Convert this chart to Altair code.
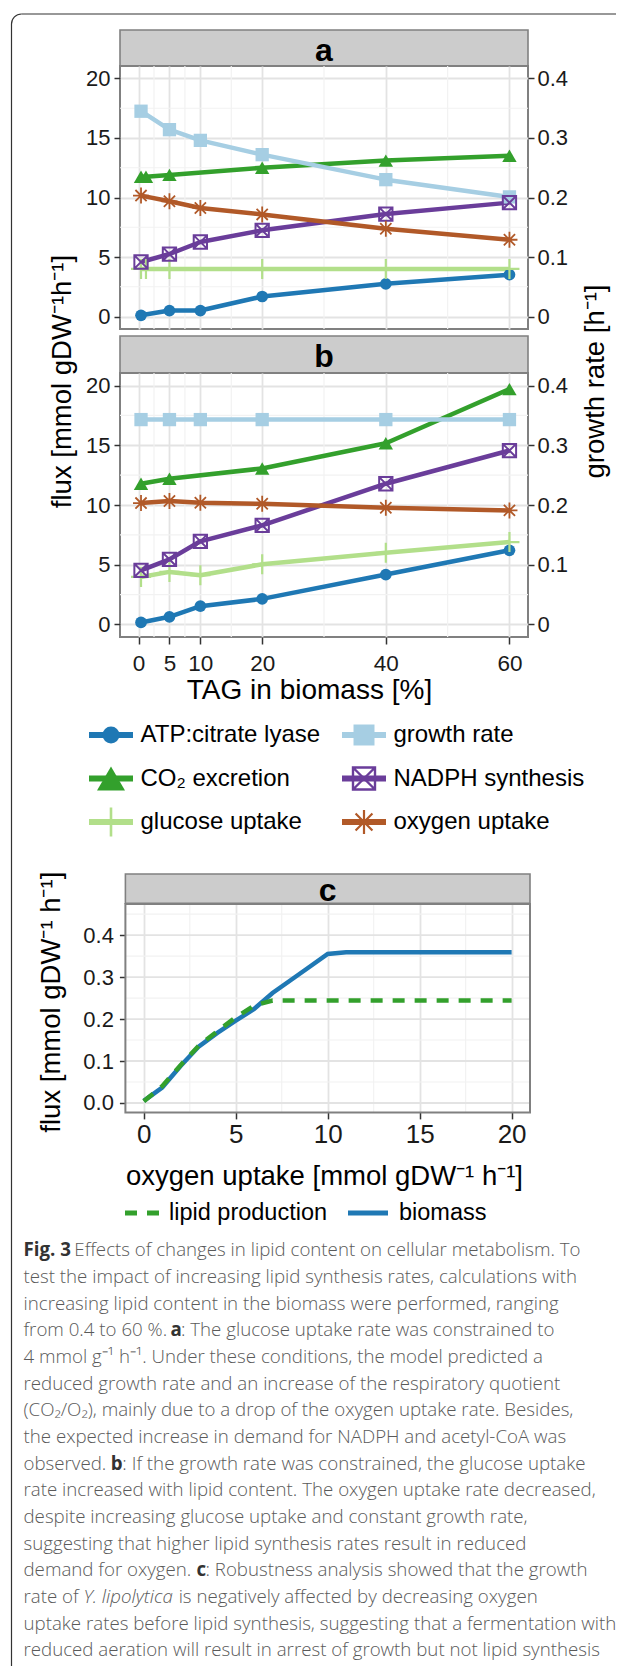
import altair as alt
import pandas as pd

# ------------------------------------------------------------------ data
SERIES = ["ATP:citrate lyase", "CO\u2082 excretion", "glucose uptake",
          "growth rate", "NADPH synthesis", "oxygen uptake"]
COLORS = ["#1F78B4", "#33A02C", "#B2DF8A", "#A6CEE3", "#6A3D9A", "#B15928"]

# TAG in biomass [%]
TAG = [0.4, 5, 10, 20, 40, 60]
TAG_A_CO2 = [0.4, 1.2, 5, 20, 40, 60]
TAG_A_GLC = [0.4, 1.2, 5, 20, 40, 60]
TAG_B_CO2 = [0.4, 5, 20, 40, 60]

# panel a (glucose uptake constrained)
A_ATP = [0.10, 0.50, 0.50, 1.68, 2.75, 3.51]
A_CO2 = [11.75, 11.75, 11.90, 12.50, 13.10, 13.50]
A_GLC = [4.0, 4.0, 4.0, 4.0, 4.0, 4.0]
A_GROWTH = [0.345, 0.314, 0.296, 0.272, 0.230, 0.201]
A_NADPH = [4.58, 5.25, 6.26, 7.24, 8.61, 9.57]
A_O2 = [10.16, 9.68, 9.12, 8.58, 7.38, 6.45]

# panel b (growth rate constrained)
B_ATP = [0.17, 0.64, 1.53, 2.14, 4.18, 6.21]
B_CO2 = [11.78, 12.20, 13.06, 15.17, 19.70]
B_GLC = [3.98, 4.40, 4.12, 5.04, 6.00, 6.90]
B_GROWTH = [0.343, 0.343, 0.343, 0.343, 0.343, 0.343]
B_NADPH = [4.53, 5.45, 6.96, 8.30, 11.78, 14.56]
B_O2 = [10.16, 10.33, 10.19, 10.10, 9.77, 9.55]

X_TICKS = [0, 5, 10, 20, 40, 60]
X_MINOR = [2.5, 7.5, 15, 30, 50]
Y_TICKS = [0, 5, 10, 15, 20]
Y_MINOR = [2.5, 7.5, 12.5, 17.5]
RATE_TICKS = [0, 0.1, 0.2, 0.3, 0.4]
SEC_AXIS = 50  # flux units per unit of growth rate (secondary axis)

# panel c (robustness analysis)
C_SERIES = ["lipid production", "biomass"]
C_COLORS = ["#33A02C", "#1F78B4"]
C_O2 = [0, 1, 2, 3, 4, 5, 6, 7, 8, 9, 10, 11, 12, 13, 14, 15, 16, 17, 18, 19, 20]
C_BIOMASS = [0.005, 0.037, 0.088, 0.135, 0.167, 0.196, 0.224, 0.262, 0.293, 0.324,
             0.355, 0.359, 0.359, 0.359, 0.359, 0.359, 0.359, 0.359, 0.359, 0.359, 0.359]
C_LIPID = [0.004, 0.040, 0.090, 0.137, 0.171, 0.204, 0.232, 0.244, 0.244, 0.244,
           0.244, 0.244, 0.244, 0.244, 0.244, 0.244, 0.244, 0.244, 0.244, 0.244, 0.244]
C_X_TICKS = [0, 5, 10, 15, 20]
C_X_MINOR = [2.5, 7.5, 12.5, 17.5]
C_Y_TICKS = [0, 0.1, 0.2, 0.3, 0.4]
C_Y_MINOR = [0.05, 0.15, 0.25, 0.35, 0.45]

CAPTION = [
    [("Fig. 3 ", "bold"), ("Effects of changes in lipid content on cellular metabolism. To", "normal")],
    [("test the impact of increasing lipid synthesis rates, calculations with", "normal")],
    [("increasing lipid content in the biomass were performed, ranging", "normal")],
    [("from 0.4 to 60 %. ", "normal"), ("a", "bold"), (": The glucose uptake rate was constrained to", "normal")],
    [("4 mmol g\u207b\u00b9 h\u207b\u00b9. Under these conditions, the model predicted a", "normal")],
    [("reduced growth rate and an increase of the respiratory quotient", "normal")],
    [("(CO\u2082/O\u2082), mainly due to a drop of the oxygen uptake rate. Besides,", "normal")],
    [("the expected increase in demand for NADPH and acetyl-CoA was", "normal")],
    [("observed. ", "normal"), ("b", "bold"), (": If the growth rate was constrained, the glucose uptake", "normal")],
    [("rate increased with lipid content. The oxygen uptake rate decreased,", "normal")],
    [("despite increasing glucose uptake and constant growth rate,", "normal")],
    [("suggesting that higher lipid synthesis rates result in reduced", "normal")],
    [("demand for oxygen. ", "normal"), ("c", "bold"), (": Robustness analysis showed that the growth", "normal")],
    [("rate of ", "normal"), ("Y. lipolytica", "italic"), (" is negatively affected by decreasing oxygen", "normal")],
    [("uptake rates before lipid synthesis, suggesting that a fermentation with", "normal")],
    [("reduced aeration will result in arrest of growth but not lipid synthesis", "normal")],
]

# ------------------------------------------------------------------ style / layout
FONT = "Liberation Sans"
CAP_FONT = "Open Sans"
CAP_SIZE = 18.7
PLUS = "M-1,0H1M0,-1V1"
STAR = "M-1,0H1M0,-1V1M-0.7,-0.7L0.7,0.7M-0.7,0.7L0.7,-0.7"
SQUARE_X = "M-1,-1H1V1H-1ZM-1,-1L1,1M-1,1L1,-1"
MARKER = [("circle", True, 0), ("triangle-up", True, 0), (PLUS, False, 2.2),
          ("square", True, 0), (SQUARE_X, False, 2.0), (STAR, False, 1.8)]
PLOT_SIZE = [137, 207, 400, 177, 177, 256]
LEGEND_SIZE = [289, 784, 841, 441, 484, 580]
LEGEND_STROKE = [0, 0, 2.6, 0, 2.4, 2.2]

PANEL_W = 408
X_DOMAIN = [-3, 63]
Y_DOMAIN = [-1.05, 21.05]
MAJOR = "#E3E3E3"
MINOR = "#F2F2F2"
BORDER = "#808080"
STRIP_FILL = "#CCCCCC"
INK = "#1A1A1A"

# svg-space position of the layout origin (left edge of panels a/b, top of strip a)
ORIGIN_X, ORIGIN_Y = 112, 22
SVG_W, SVG_H = 608, 1658          # svg width fits the page body exactly (no shrinking)

ONE = pd.DataFrame({"k": [0]})

# approximate Open Sans advance widths (em) used to lay out mixed-style caption lines
_W = {" ": .26, "a": .556, "b": .613, "c": .476, "d": .613, "e": .561, "f": .339, "g": .548,
      "h": .614, "i": .253, "j": .253, "k": .525, "l": .253, "m": .930, "n": .614, "o": .604,
      "p": .613, "q": .613, "r": .408, "s": .477, "t": .353, "u": .614, "v": .501, "w": .778,
      "x": .524, "y": .502, "z": .477, ".": .266, ",": .245, ":": .266, "%": .828, "(": .296,
      ")": .296, "/": .367, "-": .322, "F": .537, "Y": .555}


def text_width(s, style):
    w = sum(_W.get(ch, .572 if ch.isdigit() else .62) for ch in s) * CAP_SIZE * 0.96
    return w * (1.05 if style == "bold" else 0.97 if style == "italic" else 1.0)


def long_flux(entries):
    rows = []
    for name, xs, ys in entries:
        for x, y in zip(xs, ys):
            rows.append({"series": name, "tag": x, "flux": y})
    return pd.DataFrame(rows)


def growth_table(xs, rates):
    return pd.DataFrame({"series": SERIES[3], "tag": xs, "rate": rates,
                         "flux": [r * SEC_AXIS for r in rates]})


def flux_panel(flux_df, growth_df, top, height):
    xs = alt.Scale(domain=X_DOMAIN, nice=False, zero=False)
    ys = alt.Scale(domain=Y_DOMAIN, nice=False, zero=False)
    rs = alt.Scale(domain=[Y_DOMAIN[0] / SEC_AXIS, Y_DOMAIN[1] / SEC_AXIS], nice=False, zero=False)
    y_common = dict(values=Y_TICKS, format="d", labelFontSize=22, tickSize=6, labelPadding=4,
                    grid=True, labelFlush=False, labelOverlap=False)
    r_common = dict(values=RATE_TICKS, format="~f", labelFontSize=22, tickSize=6, labelPadding=3,
                    grid=False, orient="right", labelFlush=False, labelOverlap=False)
    if top:
        x_axis = alt.Axis(values=X_TICKS, labels=False, ticks=False, title=None, grid=True)
        y_axis = alt.Axis(title="flux [mmol gDW\u207b\u00b9h\u207b\u00b9]", titleFontSize=27.5,
                          titleAngle=270, titleAlign="center", titleBaseline="middle",
                          titleX=-58, titleY=315, **y_common)
        r_axis = alt.Axis(title="growth rate [h\u207b\u00b9]", titleFontSize=27.5,
                          titleAngle=270, titleAlign="center", titleBaseline="middle",
                          titleX=67, titleY=315, **r_common)
    else:
        x_axis = alt.Axis(values=X_TICKS, format="d", labelFontSize=22.5, tickSize=7,
                          labelPadding=8.5, grid=True, labelFlush=False, labelOverlap=False,
                          title="TAG in biomass [%]", titleFontSize=28, titleAlign="center",
                          titleBaseline="middle", titleX=189, titleY=53.5)
        y_axis = alt.Axis(title=None, **y_common)
        r_axis = alt.Axis(title=None, **r_common)

    X = alt.X("tag:Q", scale=xs, axis=x_axis)
    Y = alt.Y("flux:Q", scale=ys, axis=y_axis)

    layers = [
        alt.Chart(pd.DataFrame({"tag": X_MINOR})).mark_rule(color=MINOR, strokeWidth=1.2).encode(x=X),
        alt.Chart(pd.DataFrame({"flux": Y_MINOR})).mark_rule(color=MINOR, strokeWidth=1.2).encode(y=Y),
    ]
    all_df = pd.concat([flux_df, growth_df[["series", "tag", "flux"]]], ignore_index=True)
    for name, col in zip(SERIES, COLORS):
        layers.append(alt.Chart(all_df).transform_filter(alt.datum.series == name)
                      .mark_line(color=col, strokeWidth=4.5, strokeJoin="round")
                      .encode(x=X, y=Y))
    for i, (name, col) in enumerate(zip(SERIES, COLORS)):
        shape, filled, sw = MARKER[i]
        layers.append(alt.Chart(all_df).transform_filter(alt.datum.series == name)
                      .mark_point(shape=shape, filled=filled, size=PLOT_SIZE[i], color=col,
                                  opacity=1, strokeWidth=sw)
                      .encode(x=X, y=Y))
    right = alt.Chart(growth_df).mark_point(opacity=0).encode(
        x=X, y=alt.Y("rate:Q", scale=rs, axis=r_axis))
    return (alt.layer(alt.layer(*layers), right)
            .resolve_scale(y="independent")
            .properties(width=PANEL_W, height=height,
                        view=alt.ViewBackground(stroke=BORDER, strokeWidth=2)))


def strip(label, width, height, top, x0, x1, extra=None):
    df = pd.DataFrame({"label": [label]})
    rect = alt.Chart(df).mark_rect(fill=STRIP_FILL, stroke=BORDER, strokeWidth=1.6).encode(
        x=alt.value(x0), x2=alt.value(x1), y=alt.value(top), y2=alt.value(height))
    text = alt.Chart(df).mark_text(fontSize=32, fontWeight="bold", color="#000000",
                                   baseline="alphabetic", align="center").encode(
        x=alt.value((x0 + x1) / 2), y=alt.value((top + height) / 2 + 12.8), text="label:N")
    parts = [rect, text] + (extra or [])
    return alt.layer(*parts).properties(width=width, height=height)


# ------------------------------------------------------------------ frame (drawn in row 1 coords)
FX, FY, FR = -108.5, -16.0, 10.0
frame = [
    alt.Chart(ONE).mark_rule(color="#333333", strokeWidth=1.2).encode(
        x=alt.value(FX), y=alt.value(FY + FR), y2=alt.value(1645)),
    alt.Chart(ONE).mark_rule(color="#333333", strokeWidth=1.2).encode(
        x=alt.value(FX + FR), x2=alt.value(510), y=alt.value(FY)),
    alt.Chart(ONE).mark_arc(theta=4.712389, theta2=6.283185, radius=FR + 0.6, radius2=FR - 0.6,
                            color="#333333").encode(x=alt.value(FX + FR), y=alt.value(FY + FR)),
]

# ------------------------------------------------------------------ panels a, b
flux_a = long_flux([(SERIES[0], TAG, A_ATP), (SERIES[1], TAG_A_CO2, A_CO2),
                    (SERIES[2], TAG_A_GLC, A_GLC), (SERIES[4], TAG, A_NADPH),
                    (SERIES[5], TAG, A_O2)])
flux_b = long_flux([(SERIES[0], TAG, B_ATP), (SERIES[1], TAG_B_CO2, B_CO2),
                    (SERIES[2], TAG, B_GLC), (SERIES[4], TAG, B_NADPH),
                    (SERIES[5], TAG, B_O2)])
panel_a = flux_panel(flux_a, growth_table(TAG, A_GROWTH), True, 263)
panel_b = flux_panel(flux_b, growth_table(TAG, B_GROWTH), False, 264)

strip_a = strip("a", PANEL_W, 36, 0, 0, PANEL_W, extra=frame)
strip_b = strip("b", PANEL_W, 44, 7, 0, PANEL_W)

# ------------------------------------------------------------------ legend for a, b
leg_df = pd.DataFrame({"series": SERIES})
leg_df["col"] = [i // 3 for i in range(len(SERIES))]
leg_df["row"] = [i % 3 for i in range(len(SERIES))]
LX = alt.X("col:Q", scale=alt.Scale(domain=[0, 1], range=[-9, 244]), axis=None)
LY = alt.Y("row:Q", scale=alt.Scale(domain=[0, 2], range=[98, 185]), axis=None)
leg_layers = []
for i, (name, col) in enumerate(zip(SERIES, COLORS)):
    shape, filled, sw = MARKER[i]
    base = alt.Chart(leg_df).transform_filter(alt.datum.series == name)
    leg_layers.append(base.mark_point(shape="stroke", size=44 * 44, strokeWidth=6, filled=False,
                                      color=col, opacity=1).encode(x=LX, y=LY))
    leg_layers.append(base.mark_point(shape=shape, filled=filled, size=LEGEND_SIZE[i], color=col,
                                      opacity=1, strokeWidth=LEGEND_STROKE[i]).encode(x=LX, y=LY))
leg_layers.append(alt.Chart(leg_df).mark_text(align="left", baseline="middle", dx=29.5,
                                              fontSize=24, color="#000000")
                  .encode(x=LX, y=LY, text="series:N"))
legend_ab = alt.layer(*leg_layers).properties(width=PANEL_W, height=237)

# ------------------------------------------------------------------ panel c
# the panel sits 5.4 px right of the a/b column: its scale range and frame start there
C_LEFT, C_RIGHT, C_H = 5.4, 410, 208.4
c_rows = []
for name, vals in zip(C_SERIES, [C_LIPID, C_BIOMASS]):
    for x, y in zip(C_O2, vals):
        c_rows.append({"series": name, "o2": x, "flux": y})
c_df = pd.DataFrame(c_rows)
cxs = alt.Scale(domain=[-1, 21], range=[C_LEFT, C_RIGHT], nice=False, zero=False)
cys = alt.Scale(domain=[-0.0224, 0.474], nice=False, zero=False)
CX = alt.X("o2:Q", scale=cxs, axis=alt.Axis(
    values=C_X_TICKS, format="d", labelFontSize=26, tickSize=6.5, labelPadding=3, grid=True,
    labelFlush=False, labelOverlap=False,
    title="oxygen uptake [mmol gDW\u207b\u00b9 h\u207b\u00b9]", titleFontSize=27.5,
    titleAlign="center", titleBaseline="middle", titleX=204, titleY=64.3))
CY = alt.Y("flux:Q", scale=cys, axis=alt.Axis(
    values=C_Y_TICKS, format=".1f", labelFontSize=22, tickSize=6, labelPadding=6, grid=False,
    offset=-C_LEFT, labelFlush=False, labelOverlap=False,
    title="flux [mmol gDW\u207b\u00b9 h\u207b\u00b9]", titleFontSize=27.5, titleAngle=270,
    titleAlign="center", titleBaseline="middle", titleX=-73.7, titleY=97.7))
c_layers = [
    alt.Chart(pd.DataFrame({"o2": C_X_MINOR})).mark_rule(color=MINOR, strokeWidth=1.2).encode(x=CX),
    alt.Chart(pd.DataFrame({"flux": C_Y_MINOR})).mark_rule(color=MINOR, strokeWidth=1.2).encode(
        y=CY, x=alt.value(C_LEFT), x2=alt.value(C_RIGHT)),
    alt.Chart(pd.DataFrame({"flux": C_Y_TICKS})).mark_rule(color=MAJOR, strokeWidth=1.8).encode(
        y=CY, x=alt.value(C_LEFT), x2=alt.value(C_RIGHT)),
    alt.Chart(c_df).transform_filter(alt.datum.series == C_SERIES[1])
    .mark_line(color=C_COLORS[1], strokeWidth=4.5).encode(x=CX, y=CY),
    alt.Chart(c_df).transform_filter(alt.datum.series == C_SERIES[0])
    .mark_line(color=C_COLORS[0], strokeWidth=4.5, strokeDash=[12, 10]).encode(x=CX, y=CY),
    alt.Chart(ONE).mark_rect(filled=False, stroke=BORDER, strokeWidth=2).encode(
        x=alt.value(C_LEFT), x2=alt.value(C_RIGHT), y=alt.value(0), y2=alt.value(C_H)),
]
panel_c = alt.layer(*c_layers).properties(width=C_RIGHT, height=C_H)
strip_c = strip("c", PANEL_W, 29.3, 0, C_LEFT, C_RIGHT)

# ------------------------------------------------------------------ legend c + caption
legc_df = pd.DataFrame({"series": C_SERIES, "slot": [0, 1]})
legc_sym_x = alt.X("slot:Q", scale=alt.Scale(domain=[0, 1], range=[22, 248]), axis=None)
legc_txt_x = alt.X("slot:Q", scale=alt.Scale(domain=[0, 1], range=[49, 279]), axis=None)
legc_y = alt.Y("slot:Q", scale=alt.Scale(domain=[0, 1], range=[100, 100]), axis=None)
bottom_layers = [
    alt.Chart(legc_df).transform_filter(alt.datum.series == C_SERIES[0])
    .mark_point(shape="stroke", size=34 * 34, strokeWidth=5, strokeDash=[12, 10], filled=False,
                color=C_COLORS[0], opacity=1).encode(x=legc_sym_x, y=legc_y),
    alt.Chart(legc_df).transform_filter(alt.datum.series == C_SERIES[1])
    .mark_point(shape="stroke", size=40 * 40, strokeWidth=5, filled=False,
                color=C_COLORS[1], opacity=1).encode(x=legc_sym_x, y=legc_y),
    alt.Chart(legc_df).mark_text(align="left", baseline="middle", fontSize=23.5, color="#000000")
    .encode(x=legc_txt_x, y=legc_y, text="series:N"),
]

CAP_X0 = 23.5
cap_rows = []
for li, segs in enumerate(CAPTION):
    x = CAP_X0
    for txt, style in segs:
        lead = len(txt) - len(txt.lstrip(" "))
        cap_rows.append({"line": li, "xp": x + text_width(" " * lead, "normal"),
                         "txt": txt.strip(" "), "style": style})
        x += text_width(txt, style)
cap_df = pd.DataFrame(cap_rows)
CAPX = alt.X("xp:Q", scale=alt.Scale(domain=[0, 624], range=[-120, 504]), axis=None)
CAPY = alt.Y("line:Q", scale=alt.Scale(domain=[0, 15], range=[143.3, 543.3]), axis=None)
for style, weight, fstyle, col in [("normal", 300, "normal", "#5A5A5A"),
                                   ("bold", "bold", "normal", "#333333"),
                                   ("italic", 300, "italic", "#5A5A5A")]:
    bottom_layers.append(
        alt.Chart(cap_df).transform_filter(alt.datum.style == style)
        .mark_text(font=CAP_FONT, fontSize=CAP_SIZE, fontWeight=weight, fontStyle=fstyle, color=col,
                   align="left", baseline="alphabetic")
        .encode(x=CAPX, y=CAPY, text="txt:N"))
bottom = (alt.layer(*bottom_layers)
          .resolve_scale(x="independent", y="independent")
          .properties(width=PANEL_W, height=545))

chart = (alt.vconcat(strip_a, panel_a, strip_b, panel_b, legend_ab, strip_c, panel_c, bottom,
                     spacing=0, bounds="flush")
         .properties(autosize=alt.AutoSizeParams(type="none"),
                     padding={"left": ORIGIN_X, "top": ORIGIN_Y,
                              "right": SVG_W - ORIGIN_X, "bottom": SVG_H - ORIGIN_Y})
         .configure(font=FONT)
         .configure_view(stroke="transparent")
         .configure_axis(labelColor=INK, tickColor="#333333", tickWidth=1.5, domain=False,
                         gridColor=MAJOR, gridWidth=1.8, titleFontWeight="normal",
                         titleColor="#000000"))

chart.save("out.html", embed_options={"renderer": "svg", "actions": False})
